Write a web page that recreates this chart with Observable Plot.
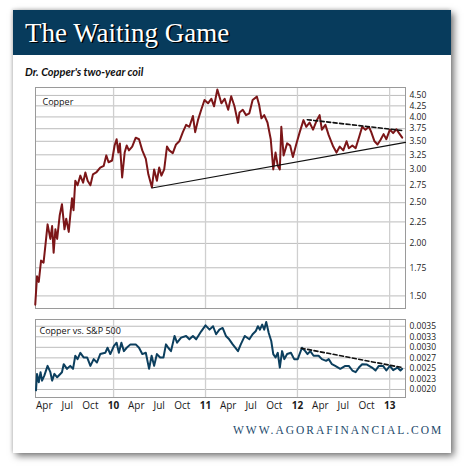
<!DOCTYPE html>
<html>
<head>
<meta charset="utf-8">
<script src="https://cdn.jsdelivr.net/npm/d3@7"></script>
<script src="https://cdn.jsdelivr.net/npm/@observablehq/plot@0.6"></script>
<style>
  html, body { margin: 0; padding: 0; background: #fff; }
  #wrap { position: relative; width: 470px; height: 473px; overflow: hidden; background: #fff; }
  #card { position: absolute; left: 13px; top: 10px; width: 438px; height: 443px; background: #fff;
          box-shadow: 3px 3px 7px rgba(0,0,0,0.55), -1px -1px 3px rgba(0,0,0,0.15); }
  #bar { position: absolute; left: 0; top: 0; width: 438px; height: 45px; background: #073b5c; }
  #deco { position: absolute; left: 0; top: 0; }
  #topPlot { position: absolute; left: 0; top: 80px; }
  #botPlot { position: absolute; left: 0; top: 312px; }
</style>
</head>
<body>
<div id="wrap">
  <div id="card"><div id="bar"></div></div>
  <svg id="deco" width="470" height="473">
    <text x="26.5" y="43.2" font-family="'Liberation Serif', serif" font-size="27" fill="#000">The Waiting Game</text>
    <text x="25" y="41.7" font-family="'Liberation Serif', serif" font-size="27" fill="#fff">The Waiting Game</text>
    <text x="25" y="76" font-family="Lato, 'Open Sans', sans-serif" font-size="11" font-weight="bold" font-style="italic" fill="#111">Dr. Copper's two-year coil</text>
    <text x="233" y="434" font-family="'Liberation Serif', serif" font-size="11.5" letter-spacing="2" fill="#1d4a6c">WWW.AGORAFINANCIAL.COM</text>
  </svg>
  <div id="topPlot"></div>
  <div id="botPlot"></div>
</div>
<script>
// ---- Copper price (USD/lb) ----
const copperDates = [
  "2009-02-24","2009-03-03","2009-03-10","2009-03-19","2009-03-29","2009-04-05","2009-04-14","2009-04-25","2009-05-02","2009-05-08",
  "2009-05-15","2009-05-22","2009-06-01","2009-06-10","2009-06-20","2009-06-27","2009-07-07","2009-07-13","2009-07-20","2009-07-26",
  "2009-08-02","2009-08-11","2009-08-22","2009-09-02","2009-09-11","2009-09-20","2009-10-01","2009-10-11","2009-10-24","2009-11-09",
  "2009-11-23","2009-12-03","2009-12-12","2009-12-26","2010-01-05","2010-01-13","2010-01-20","2010-01-26","2010-02-04","2010-02-14",
  "2010-02-22","2010-03-03","2010-03-16","2010-03-30","2010-04-12","2010-04-25","2010-05-09","2010-05-19","2010-06-02","2010-06-11",
  "2010-06-22","2010-07-01","2010-07-10","2010-07-21","2010-08-01","2010-08-10","2010-08-24","2010-09-06","2010-09-19","2010-10-03",
  "2010-10-16","2010-10-29","2010-11-12","2010-11-21","2010-12-02","2010-12-15","2010-12-28","2011-01-11","2011-01-24","2011-02-04",
  "2011-02-17","2011-03-05","2011-03-18","2011-04-01","2011-04-13","2011-04-26","2011-05-10","2011-05-16","2011-05-29","2011-06-11",
  "2011-06-24","2011-07-07","2011-07-24","2011-08-02","2011-08-11","2011-08-22","2011-09-04","2011-09-17","2011-09-27","2011-10-06",
  "2011-10-15","2011-10-23","2011-10-29","2011-11-07","2011-11-21","2011-12-03","2011-12-14","2011-12-27","2012-01-10","2012-01-25",
  "2012-02-05","2012-02-18","2012-03-03","2012-03-18","2012-03-29","2012-04-07","2012-04-21","2012-05-04","2012-05-22","2012-06-04",
  "2012-06-17","2012-07-01","2012-07-14","2012-07-23","2012-08-06","2012-08-19","2012-09-01","2012-09-14","2012-09-27","2012-10-11",
  "2012-10-20","2012-11-02","2012-11-14","2012-11-25","2012-12-08","2012-12-19","2013-01-02","2013-01-15","2013-01-28","2013-02-06",
  "2013-02-20"
];
const copperPrices = [
  1.43,1.67,1.62,1.82,1.80,1.97,2.22,2.05,2.20,1.90,
  2.16,2.05,2.33,2.48,2.16,2.29,2.13,2.33,2.56,2.40,
  2.82,2.75,2.90,2.79,2.95,2.82,2.75,2.92,2.95,3.03,
  3.06,3.24,3.12,3.15,3.42,3.54,3.29,3.46,2.87,3.29,
  3.42,3.33,3.40,3.57,3.54,3.33,3.18,2.92,2.72,3.00,
  2.82,3.03,2.90,3.00,3.40,3.33,3.28,3.44,3.50,3.68,
  3.83,3.79,4.02,3.68,3.93,4.16,4.39,4.31,4.42,4.24,
  4.65,4.31,4.42,4.16,4.48,4.24,3.87,4.10,4.16,4.04,
  4.08,4.39,4.47,4.27,3.97,4.04,3.88,3.54,3.00,3.29,
  3.06,3.00,3.79,3.24,3.46,3.42,3.21,3.44,3.68,3.93,
  3.79,3.88,3.73,3.93,4.04,3.73,3.83,3.62,3.40,3.29,
  3.40,3.33,3.50,3.37,3.42,3.37,3.57,3.79,3.73,3.79,
  3.68,3.50,3.44,3.52,3.64,3.54,3.73,3.66,3.74,3.67,
  3.57
];

// ---- Copper vs. S&P 500 ratio ----
const ratioDates = [
  "2009-02-27","2009-03-03","2009-03-10","2009-03-17","2009-03-23","2009-04-01","2009-04-14","2009-04-25","2009-05-02","2009-05-11",
  "2009-05-22","2009-06-10","2009-06-17","2009-06-30","2009-07-13","2009-07-24","2009-08-02","2009-08-11","2009-08-22","2009-09-04",
  "2009-09-18","2009-10-01","2009-10-14","2009-10-27","2009-11-09","2009-11-29","2009-12-08","2009-12-19","2010-01-02","2010-01-13",
  "2010-01-22","2010-02-01","2010-02-11","2010-02-22","2010-03-09","2010-03-30","2010-04-12","2010-04-25","2010-05-09","2010-05-22",
  "2010-06-01","2010-06-11","2010-06-22","2010-07-05","2010-07-18","2010-07-28","2010-08-06","2010-08-17","2010-08-31","2010-09-10",
  "2010-09-26","2010-10-16","2010-10-29","2010-11-12","2010-11-25","2010-12-15","2011-01-01","2011-01-17","2011-01-31","2011-02-12",
  "2011-02-25","2011-03-10","2011-03-23","2011-04-05","2011-04-19","2011-05-10","2011-05-21","2011-06-06","2011-06-24","2011-07-07",
  "2011-07-19","2011-07-28","2011-08-05","2011-08-14","2011-08-22","2011-08-30","2011-09-09","2011-09-19","2011-09-27","2011-10-06",
  "2011-10-15","2011-10-23","2011-11-01","2011-11-10","2011-11-21","2011-12-06","2011-12-19","2012-01-02","2012-01-19","2012-02-01",
  "2012-02-10","2012-02-21","2012-03-05","2012-03-25","2012-04-07","2012-04-24","2012-05-04","2012-05-17","2012-05-30","2012-06-19",
  "2012-07-09","2012-07-23","2012-08-06","2012-08-19","2012-09-01","2012-09-14","2012-10-03","2012-10-23","2012-11-06","2012-11-19",
  "2012-12-06","2012-12-19","2013-01-02","2013-01-15","2013-02-01","2013-02-13","2013-02-20"
];
const ratioValues = [
  0.00198,0.00237,0.00217,0.00241,0.00221,0.00233,0.00256,0.00241,0.00221,0.00237,
  0.00229,0.00241,0.00260,0.00249,0.00256,0.00249,0.00280,0.00272,0.00287,0.00276,
  0.00276,0.00256,0.00272,0.00264,0.00284,0.00287,0.00299,0.00284,0.00303,0.00311,
  0.00287,0.00311,0.00291,0.00299,0.00307,0.00307,0.00299,0.00284,0.00287,0.00249,
  0.00280,0.00256,0.00284,0.00276,0.00276,0.00307,0.00299,0.00291,0.00327,0.00311,
  0.00323,0.00327,0.00319,0.00327,0.00319,0.00338,0.00352,0.00342,0.00350,0.00331,
  0.00342,0.00346,0.00327,0.00319,0.00307,0.00291,0.00307,0.00327,0.00319,0.00331,
  0.00338,0.00350,0.00342,0.00354,0.00342,0.00360,0.00334,0.00315,0.00284,0.00276,
  0.00287,0.00252,0.00291,0.00272,0.00284,0.00287,0.00272,0.00272,0.00299,0.00291,
  0.00284,0.00291,0.00280,0.00280,0.00272,0.00268,0.00272,0.00260,0.00256,0.00249,
  0.00256,0.00256,0.00245,0.00241,0.00252,0.00260,0.00259,0.00252,0.00245,0.00256,
  0.00256,0.00245,0.00256,0.00246,0.00252,0.00245,0.00249
];

// ---- Trend lines (end points) ----
const supportDates = ["2010-06-02","2013-03-05"];
const supportValues = [2.71, 3.48];
const copperResistDates = ["2012-02-09","2013-02-24"];
const copperResistValues = [3.94, 3.71];
const ratioResistDates = ["2012-01-16","2013-02-24"];
const ratioResistValues = [0.00298, 0.002515];

// ---- Ticks ----
const copperTicks = [1.5,1.75,2,2.25,2.5,2.75,3,3.25,3.5,3.75,4,4.25,4.5];
const copperTickLabels = ["1.50","1.75","2.00","2.25","2.50","2.75","3.00","3.25","3.50","3.75","4.00","4.25","4.50"];
const ratioTicks = [0.002,0.00225,0.0025,0.00275,0.003,0.00325,0.0035];
const ratioTickLabels = ["0.0020","0.0023","0.0025","0.0027","0.0030","0.0033","0.0035"];
const monthTickDates = ["2009-04-01","2009-07-01","2009-10-01","2010-04-01","2010-07-01","2010-10-01",
                        "2011-04-01","2011-07-01","2011-10-01","2012-04-01","2012-07-01","2012-10-01"];
const monthTickLabels = ["Apr","Jul","Oct","Apr","Jul","Oct","Apr","Jul","Oct","Apr","Jul","Oct"];
const yearTickDates = ["2010-01-01","2011-01-01","2012-01-01","2013-01-01"];
const yearTickLabels = ["10","11","12","13"];
const xDomainDates = ["2009-02-25","2013-03-05"];
const topLabel = "Copper";
const bottomLabel = "Copper vs. S&P 500";

// ---- Build ----
const P = s => new Date(s + "T00:00:00Z");
const rows = (ds, vs) => ds.map((d, i) => ({date: P(d), value: vs[i]}));
const copper = rows(copperDates, copperPrices);
const ratio = rows(ratioDates, ratioValues);
const support = rows(supportDates, supportValues);
const copperResist = rows(copperResistDates, copperResistValues);
const ratioResist = rows(ratioResistDates, ratioResistValues);
const xDomain = xDomainDates.map(P);
const years = yearTickDates.map(P);
const months = monthTickDates.map(P);
const cMap = new Map(copperTicks.map((t, i) => [t, copperTickLabels[i]]));
const rMap = new Map(ratioTicks.map((t, i) => [t, ratioTickLabels[i]]));
const mMap = new Map(months.map((d, i) => [+d, monthTickLabels[i]]));
const yMap = new Map(years.map((d, i) => [+d, yearTickLabels[i]]));

const FONT = "'Open Sans', sans-serif";
const style = {fontFamily: FONT, fontSize: "9px", color: "#1a1a1a", background: "transparent", overflow: "visible"};
const GRID = "#bcbcbc";
const VGRID = "#cfcfcf";
const FRAME = "#9a9a9a";

const topChart = Plot.plot({
  width: 470, height: 235,
  marginTop: 7, marginBottom: 7, marginLeft: 35, marginRight: 65,
  style,
  x: {type: "utc", domain: xDomain, axis: null},
  y: {type: "log", domain: [1.40, 4.70]},
  marks: [
    Plot.gridY(copperTicks, {stroke: GRID, strokeOpacity: 1}),
    Plot.gridX(years, {stroke: VGRID, strokeOpacity: 1, strokeWidth: 1.3}),
    Plot.frame({stroke: FRAME}),
    Plot.axisY(copperTicks, {anchor: "right", tickSize: 0, tickPadding: 4, label: null,
      tickFormat: d => cMap.get(d), fontSize: 8.5}),
    Plot.line(copper, {x: "date", y: "value", stroke: "#7c1618", strokeWidth: 2, curve: "linear"}),
    Plot.line(support, {x: "date", y: "value", stroke: "#111", strokeWidth: 1.2}),
    Plot.line(copperResist, {x: "date", y: "value", stroke: "#111", strokeWidth: 1.6, strokeDasharray: "4,2.5"}),
    Plot.text([topLabel], {frameAnchor: "top-left", dx: 7, dy: 11, fontSize: 9, fill: "#111"})
  ]
});
document.getElementById("topPlot").appendChild(topChart);

const botChart = Plot.plot({
  width: 470, height: 108,
  marginTop: 7, marginBottom: 23, marginLeft: 35, marginRight: 65,
  style,
  x: {type: "utc", domain: xDomain},
  y: {domain: [0.00181, 0.00366]},
  marks: [
    Plot.gridY(ratioTicks, {stroke: GRID, strokeOpacity: 1}),
    Plot.gridX(years, {stroke: VGRID, strokeOpacity: 1, strokeWidth: 1.3}),
    Plot.frame({stroke: FRAME}),
    Plot.axisY(ratioTicks, {anchor: "right", tickSize: 0, tickPadding: 4, label: null,
      tickFormat: d => rMap.get(d), fontSize: 8.5}),
    Plot.axisX(months, {anchor: "bottom", tickSize: 0, tickPadding: 4, label: null,
      tickFormat: d => mMap.get(+d), fontSize: 10}),
    Plot.axisX(years, {anchor: "bottom", tickSize: 0, tickPadding: 4, label: null,
      tickFormat: d => yMap.get(+d), fontSize: 10, fontWeight: "bold"}),
    Plot.line(ratio, {x: "date", y: "value", stroke: "#0c3f5e", strokeWidth: 2}),
    Plot.line(ratioResist, {x: "date", y: "value", stroke: "#111", strokeWidth: 1.6, strokeDasharray: "4,2.5"}),
    Plot.text([bottomLabel], {frameAnchor: "top-left", dx: 4, dy: 8.5, fontSize: 9, fill: "#111"})
  ]
});
document.getElementById("botPlot").appendChild(botChart);
</script>
</body>
</html>
